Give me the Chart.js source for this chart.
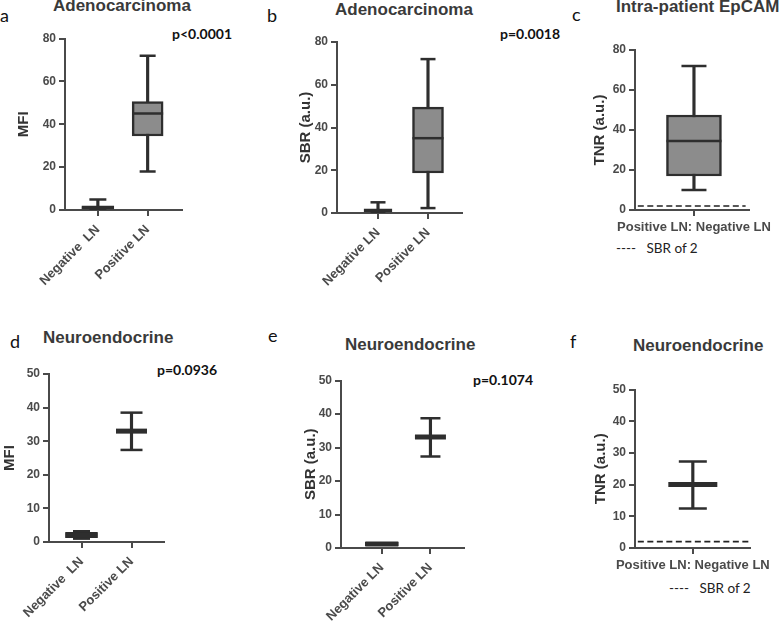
<!DOCTYPE html>
<html><head><meta charset="utf-8">
<script src="https://cdn.jsdelivr.net/npm/chart.js@4.4.1/dist/chart.umd.min.js"></script>
<style>
html,body{margin:0;padding:0;background:#fff;width:779px;height:621px;overflow:hidden;position:relative}
canvas{position:absolute}
.t{position:absolute;line-height:1;white-space:nowrap}
.letter{font-family:Lato,"Open Sans",sans-serif;font-size:18px;color:#111}
.title{font-family:"Liberation Sans",Arial,sans-serif;font-weight:bold;color:#3a3a3a;font-size:17px}
.p{font-family:Lato,"Open Sans",sans-serif;font-weight:bold;font-size:14px;color:#111}
.leg{font-family:Lato,"Open Sans",sans-serif;font-size:13.5px;color:#222}
</style></head><body>
<div class="t letter" style="left:0px;top:6px">a</div>
<div class="t letter" style="left:267px;top:6px">b</div>
<div class="t letter" style="left:572px;top:5px">c</div>
<div class="t letter" style="left:10px;top:332px">d</div>
<div class="t letter" style="left:268px;top:326px">e</div>
<div class="t letter" style="left:570px;top:332px">f</div>

<div class="t title" style="left:53px;top:-3px">Adenocarcinoma</div>
<div class="t title" style="left:335px;top:1px">Adenocarcinoma</div>
<div class="t title" style="left:616px;top:-2px">Intra-patient EpCAM</div>
<div class="t title" style="left:43px;top:329px">Neuroendocrine</div>
<div class="t title" style="left:345px;top:336px">Neuroendocrine</div>
<div class="t title" style="left:633px;top:337px">Neuroendocrine</div>

<div class="t p" style="left:172px;top:27px">p&lt;0.0001</div>
<div class="t p" style="left:500px;top:27px">p=0.0018</div>
<div class="t p" style="left:157px;top:363px">p=0.0936</div>
<div class="t p" style="left:473px;top:373px">p=0.1074</div>

<div class="t leg" style="left:616px;top:242px">----&nbsp;&nbsp;&nbsp;SBR of 2</div>
<div class="t leg" style="left:669px;top:582px">----&nbsp;&nbsp;&nbsp;SBR of 2</div>

<canvas id="ca" width="200" height="270" style="left:0px;top:20px"></canvas>
<canvas id="cb" width="190" height="269" style="left:290px;top:24px"></canvas>
<canvas id="cc" width="199" height="220" style="left:580px;top:20px"></canvas>
<canvas id="cd" width="185" height="269" style="left:0px;top:353px"></canvas>
<canvas id="ce" width="190" height="264" style="left:295px;top:359px"></canvas>
<canvas id="cf" width="199" height="218" style="left:580px;top:360px"></canvas>

<script>
// ---------- data ----------
const twoGroups = ['Negative  LN', 'Positive LN'];
const twoGroupsB = ['Negative LN', 'Positive LN'];
const ratioGroup = ['Positive LN: Negative LN'];
const adenoYTicks = [0, 20, 40, 60, 80];
const neuroYTicks = [0, 10, 20, 30, 40, 50];
const sbrThreshold = 2;

// a: Adenocarcinoma MFI
const aMin = [0, 18];
const aQ1 = [0.4, 34.5];
const aMedian = [1, 45];
const aQ3 = [1.9, 50.6];
const aMax = [4.9, 72];
// b: Adenocarcinoma SBR
const bMin = [0, 2.3];
const bQ1 = [0.6, 18.7];
const bMedian = [1, 35];
const bQ3 = [2, 49.5];
const bMax = [5, 72];
// c: Intra-patient EpCAM TNR
const cMin = [10];
const cQ1 = [17];
const cMedian = [34.5];
const cQ3 = [47.5];
const cMax = [72];
// d: Neuroendocrine MFI
const dMin = [1.0, 27.4];
const dQ1 = [1.3, null];
const dMedian = [2, 33];
const dQ3 = [2.9, null];
const dMax = [3.2, 38.5];
// e: Neuroendocrine SBR
const eMin = [null, 27.3];
const eQ1 = [0.7, null];
const eMedian = [1.2, 33.1];
const eQ3 = [1.7, null];
const eMax = [null, 38.7];
// f: Neuroendocrine TNR
const fMin = [12.5];
const fMedian = [20];
const fMax = [27.3];

// ---------- drawing ----------
const DARK = '#2e2e2e';
const AXIS = '#4a4a4a';
const BOXFILL = '#8c8c8c';
const SANS = '"Liberation Sans", Arial, sans-serif';

function makePanel(id, p) {
  const n = p.cats.length;
  const idx = [...Array(n).keys()];
  const datasets = [];
  idx.forEach(i => {
    if (p.min[i] != null && p.max[i] != null) {
      datasets.push({type:'bar', data:[{x:i, y:[p.min[i], p.max[i]]}], barThickness:2.5,
        backgroundColor:DARK, borderWidth:0, grouped:false, order:5});
    }
    if (p.q1 && p.q1[i] != null) {
      datasets.push({type:'bar', data:[{x:i, y:[p.q1[i], p.q3[i]]}], barThickness:p.boxW[i],
        backgroundColor:BOXFILL, borderColor:DARK, borderWidth:2.5, borderSkipped:false, grouped:false, order:4});
    }
  });
  const capData = [], capR = [];
  idx.forEach(i => {
    [p.min[i], p.max[i]].forEach(v => { if (v != null) { capData.push({x:i, y:v}); capR.push(p.capW[i] / 2); } });
  });
  datasets.push({type:'line', data:capData, showLine:false, pointStyle:'line', pointRadius:capR,
    pointBorderWidth:2.5, pointBorderColor:DARK, order:3});
  datasets.push({type:'line', data:idx.map(i => ({x:i, y:p.med[i]})), showLine:false, pointStyle:'line',
    pointRadius:idx.map(i => p.medW[i] / 2), pointBorderWidth:p.medLW, pointBorderColor:DARK, order:2});
  if (p.thX) {
    datasets.push({type:'line', label:'SBR of 2', data:[{x:p.thX[0], y:sbrThreshold}, {x:p.thX[1], y:sbrThreshold}],
      borderColor:'#222', borderWidth:1.6, borderDash:[6, 3.5], pointRadius:0, order:1});
  }
  const zeroPad = s => { s.paddingLeft = 0; s.paddingRight = 0; s.paddingTop = 0; s.paddingBottom = 0; };
  new Chart(document.getElementById(id), {
    type:'bar',
    data:{datasets},
    options:{
      responsive:false, animation:false, events:[],
      layout:{padding:{left:0, top:14, right:p.pr, bottom:0}},
      plugins:{legend:{display:false}, tooltip:{enabled:false}},
      scales:{
        x:{type:'linear', min:p.xMin, max:p.xMax, offset:false, bounds:'data',
          afterBuildTicks:s => { s.ticks = idx.map(i => ({value:i})); },
          afterFit:s => { s.height = p.hx; zeroPad(s); },
          grid:{offset:false, drawOnChartArea:false, drawTicks:true, tickLength:6, color:AXIS, lineWidth:2},
          border:{display:true, color:AXIS, width:2},
          ticks:{autoSkip:false, maxRotation:p.rot, minRotation:p.rot, padding:p.xPad, color:AXIS,
            font:{family:SANS, size:13, weight:'bold'}, callback:v => p.cats[v]}
        },
        y:{type:'linear', min:0, max:p.yTicks[p.yTicks.length - 1], bounds:'data',
          afterBuildTicks:s => { s.ticks = p.yTicks.map(v => ({value:v})); },
          afterFit:s => { s.width = p.wy; zeroPad(s); },
          grid:{drawOnChartArea:false, drawTicks:true, tickLength:6, color:AXIS, lineWidth:2},
          border:{display:true, color:AXIS, width:2},
          ticks:{padding:3, color:AXIS, font:{family:SANS, size:12, weight:'bold'}},
          title:{display:true, text:p.yTitle, color:'#333', font:{family:SANS, size:15, weight:'bold'},
            padding:{top:p.tPad, bottom:0}}
        }
      }
    }
  });
}

makePanel('ca', {cats:twoGroups, min:aMin, q1:aQ1, med:aMedian, q3:aQ3, max:aMax, yTicks:adenoYTicks, yTitle:'MFI',
  boxW:[32, 31], capW:[17, 16], medW:[32, 31], medLW:2.5, xMin:-0.66, xMax:1.68, pr:18, wy:65, hx:80, rot:45, xPad:6, tPad:15});
makePanel('cb', {cats:twoGroupsB, min:bMin, q1:bQ1, med:bMedian, q3:bQ3, max:bMax, yTicks:adenoYTicks, yTitle:'SBR (a.u.)',
  boxW:[28, 31], capW:[15, 15], medW:[28, 31], medLW:2.5, xMin:-0.82, xMax:1.68, pr:18, wy:47, hx:80, rot:45, xPad:6, tPad:7});
makePanel('cc', {cats:ratioGroup, min:cMin, q1:cQ1, med:cMedian, q3:cQ3, max:cMax, yTicks:adenoYTicks, yTitle:'TNR (a.u.)',
  boxW:[55], capW:[25], medW:[55], medLW:2.5, xMin:-1.05, xMax:0.98, thX:[-1.0, 0.92], pr:22, wy:55, hx:30, rot:0, xPad:4, tPad:11});
makePanel('cd', {cats:twoGroups, min:dMin, q1:dQ1, med:dMedian, q3:dQ3, max:dMax, yTicks:neuroYTicks, yTitle:'MFI',
  boxW:[32, 31], capW:[17, 22], medW:[32, 31], medLW:5, xMin:-0.65, xMax:1.65, pr:19, wy:49, hx:80, rot:45, xPad:6, tPad:1});
makePanel('ce', {cats:twoGroupsB, min:eMin, q1:eQ1, med:eMedian, q3:eQ3, max:eMax, yTicks:neuroYTicks, yTitle:'SBR (a.u.)',
  boxW:[33, 31], capW:[20, 20], medW:[33, 31], medLW:5, xMin:-0.84, xMax:1.68, pr:18, wy:46, hx:75, rot:45, xPad:6, tPad:7});
makePanel('cf', {cats:ratioGroup, min:fMin, q1:null, med:fMedian, q3:null, max:fMax, yTicks:neuroYTicks, yTitle:'TNR (a.u.)',
  boxW:[49], capW:[28], medW:[49], medLW:5, xMin:-1.02, xMax:1.0, thX:[-0.97, 1.0], pr:23, wy:55, hx:30, rot:0, xPad:4, tPad:12});
</script>
</body></html>
